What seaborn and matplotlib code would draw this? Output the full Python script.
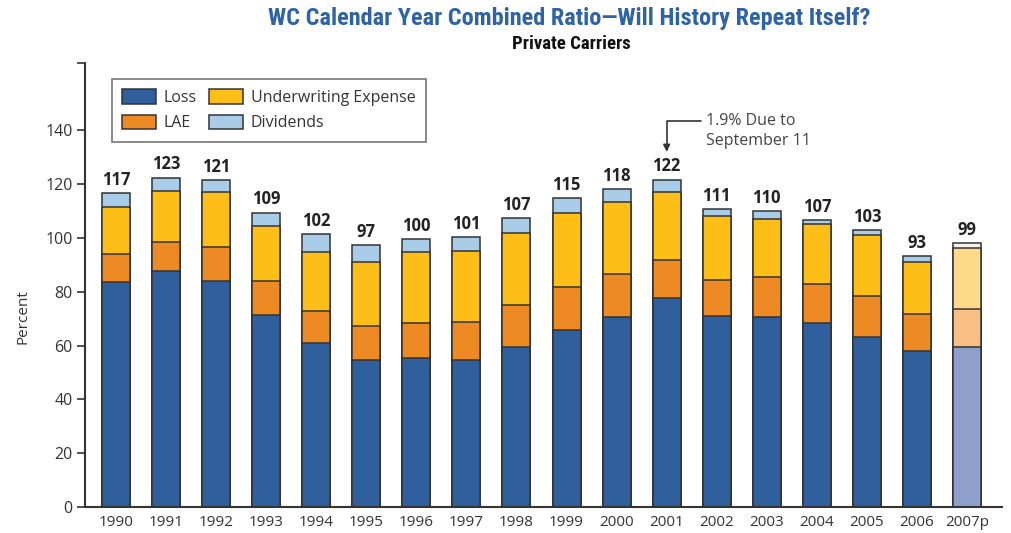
import numpy as np
import pandas as pd
import matplotlib
matplotlib.use('Agg')
import matplotlib.pyplot as plt
import seaborn as sns

years = ['1990', '1991', '1992', '1993', '1994', '1995', '1996', '1997', '1998',
         '1999', '2000', '2001', '2002', '2003', '2004', '2005', '2006', '2007p']
loss = [83.5, 87.7, 84.0, 71.5, 60.9, 54.8, 55.3, 54.8, 59.5,
        65.9, 70.5, 77.8, 71.0, 70.5, 68.4, 63.3, 57.9, 59.3]
lae = [10.7, 10.6, 12.8, 12.4, 12.1, 12.5, 13.2, 14.0, 15.5,
       15.7, 16.1, 14.0, 13.2, 14.9, 14.4, 15.0, 13.8, 14.4]
uw_expense = [17.2, 19.2, 20.1, 20.6, 21.8, 23.6, 26.4, 26.4, 27.0,
              27.7, 26.9, 25.3, 24.0, 21.6, 22.3, 22.7, 19.5, 22.4]
dividends = [5.2, 4.9, 4.5, 4.9, 6.6, 6.4, 4.7, 5.2, 5.3,
             5.6, 4.5, 4.6, 2.4, 2.9, 1.4, 1.8, 1.9, 2.0]
totals = [117, 123, 121, 109, 102, 97, 100, 101, 107,
          115, 118, 122, 111, 110, 107, 103, 93, 99]

df = pd.DataFrame({'Year': years, 'Loss': loss, 'LAE': lae,
                   'Underwriting Expense': uw_expense, 'Dividends': dividends})

components = ['Loss', 'LAE', 'Underwriting Expense', 'Dividends']
colors = ['#2f5f9c', '#ee8a23', '#fdbe17', '#a9cde8']
faded = ['#8e9fcb', '#f8be83', '#fed98a', '#f3f1ee']

sns.set_theme(style='white')
plt.rcParams['font.family'] = ['Open Sans', 'DejaVu Sans']
dark = '#333333'
narrow = ['Roboto Condensed', 'Roboto', 'DejaVu Sans']

fig = plt.figure(figsize=(10.11, 5.33), dpi=100)
ax = fig.add_axes([0.0841, 0.0488, 0.907, 0.833])

# stacked bars: draw the cumulative sums from top layer down
cum = df[components].cumsum(axis=1)
for comp, col, fcol in reversed(list(zip(components, colors, faded))):
    sns.barplot(x=df['Year'], y=cum[comp], color=col, width=0.56,
                edgecolor=dark, linewidth=1.1, saturation=1, label=comp, ax=ax)
    # projected year in lighter shades
    ax.patches[-1].set_facecolor(fcol)

for i, t in enumerate(totals):
    top = cum['Dividends'].iloc[i]
    ax.annotate(str(t), (i, top), xytext=(0, 3), textcoords='offset points',
                ha='center', va='bottom', fontsize=12, fontweight='bold', color='#222222')

# legend in natural order
handles, labels = ax.get_legend_handles_labels()
order = [labels.index(c) for c in components]
leg = ax.legend([handles[k] for k in order], [labels[k] for k in order], ncol=2,
                loc='upper left', bbox_to_anchor=(0.029, 0.964), borderaxespad=0,
                frameon=True, fancybox=False, edgecolor='#555555', fontsize=11.5,
                handlelength=2.1, handleheight=1.0, columnspacing=0.8,
                handletextpad=0.5, labelspacing=0.55, borderpad=0.65)
leg.get_frame().set_linewidth(1.2)
for txt in leg.get_texts():
    txt.set_color(dark)

# September 11 note
ax.annotate('', xy=(11, 132), xytext=(11.69, 143.6),
            arrowprops=dict(arrowstyle='-|>', color='#333333', lw=1.2,
                            connectionstyle='angle,angleA=0,angleB=90,rad=0',
                            shrinkA=0, shrinkB=0, mutation_scale=10))
ax.text(11.79, 139.7, '1.9% Due to\nSeptember 11', ha='left', va='center',
        fontsize=11.5, color='#444444', linespacing=1.3)

ax.set_xlim(-0.62, 17.7)
ax.set_ylim(0, 165)
ax.set_yticks(np.arange(0, 141, 20))
ax.set_yticks([165], minor=True)
ax.tick_params(axis='y', which='both', left=True, length=6, width=1.2, color=dark,
               labelsize=11.5, labelcolor=dark, pad=3)
ax.tick_params(axis='x', bottom=False, labelsize=11, labelcolor=dark, pad=0)
ax.set_xlabel('')
ax.set_ylabel('Percent', fontsize=11, color=dark)
ax.yaxis.set_label_coords(-0.06, 0.43)
sns.despine(ax=ax)
for side in ['left', 'bottom']:
    ax.spines[side].set_color(dark)
    ax.spines[side].set_linewidth(1.5)

fig.text(0.563, 0.966, 'WC Calendar Year Combined Ratio\u2014Will History Repeat Itself?',
         ha='center', va='center', fontsize=17.5, fontweight='bold', color='#2e63a5',
         family=narrow)
fig.text(0.565, 0.917, 'Private Carriers', ha='center', va='center', fontsize=13.5,
         fontweight='bold', color='#111111', family=narrow)

fig.savefig('out.png', dpi=100)
